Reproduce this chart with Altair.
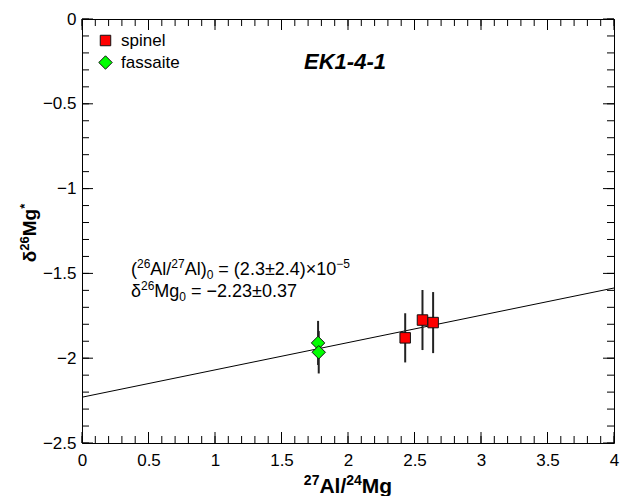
import altair as alt
import pandas as pd

# ---- data ----
spinel_x = [2.43, 2.56, 2.64]
spinel_y = [-1.88, -1.775, -1.79]
spinel_err = [0.145, 0.177, 0.18]

fass_x = [1.775, 1.78]
fass_y = [-1.91, -1.965]
fass_err = [0.13, 0.125]

fit_intercept = -2.23
fit_slope = 0.161
fit_x = [0, 4]

x_major = [0, 0.5, 1, 1.5, 2, 2.5, 3, 3.5, 4]
x_minor = [round(i * 0.1, 1) for i in range(41)]
y_major = [0, -0.5, -1, -1.5, -2, -2.5]
y_minor = [round(-i * 0.1, 1) for i in range(26)]

minerals = ["spinel", "fassaite"]
colors = ["#ff0000", "#00ff00"]
shapes = ["square", "diamond"]

chart_title = "EK1-4-1"
# rich texts: (text, kind) with kind n=normal, u=superscript, d=subscript
x_title = [("27", "u"), ("Al/", "n"), ("24", "u"), ("Mg", "n")]
y_title = [("δ", "n"), ("26", "u"), ("Mg", "n"), ("*", "u")]
ann_line1 = [("(", "n"), ("26", "u"), ("Al/", "n"), ("27", "u"), ("Al)", "n"), ("0", "d"),
             (" = (2.3±2.4)×10", "n"), ("−5", "u")]
ann_line2 = [("δ", "n"), ("26", "u"), ("Mg", "n"), ("0", "d"), (" = −2.23±0.37", "n")]

W, H = 532, 424
MAJ, MIN = 11, 7

# Arial / Liberation Sans advance widths (per 1000 em)
REG = {" ": 278, "(": 333, ")": 333, "*": 389, "-": 333, ".": 278, "/": 278, "=": 584,
       "A": 667, "M": 833, "l": 222, "g": 556, "±": 549, "×": 584, "−": 584, "δ": 556}
BOLD = {" ": 278, "(": 333, ")": 333, "*": 389, "-": 333, ".": 278, "/": 278, "=": 584,
        "A": 722, "M": 833, "l": 278, "g": 611, "±": 549, "×": 584, "−": 584, "δ": 611}


def text_width(s, size, bold=False):
    tbl = BOLD if bold else REG
    return sum(tbl.get(c, 556) for c in s) * size / 1000.0


def rich(segs, x0, y0, big, small, bold=False, rotate=False, up=None, down=None):
    up = big * 0.38 if up is None else up
    down = big * 0.22 if down is None else down
    rows, pos = [], 0.0
    for t, k in segs:
        fs = big if k == "n" else small
        off = -up if k == "u" else (down if k == "d" else 0.0)
        stripped = t.lstrip(" ")
        pos += text_width(t[: len(t) - len(stripped)], fs, bold)
        if rotate:
            rows.append({"t": stripped, "px": x0 + off, "py": y0 - pos, "fs": fs})
        else:
            rows.append({"t": stripped, "px": x0 + pos, "py": y0 + off, "fs": fs})
        pos += text_width(stripped, fs, bold)
    return rows, pos


pts = pd.DataFrame({
    "x": spinel_x + fass_x,
    "y": spinel_y + fass_y,
    "err": spinel_err + fass_err,
    "mineral": ["spinel"] * len(spinel_x) + ["fassaite"] * len(fass_x),
})
pts["lo"] = pts["y"] - pts["err"]
pts["hi"] = pts["y"] + pts["err"]

fit = pd.DataFrame({"x": fit_x, "y": [fit_intercept + fit_slope * v for v in fit_x]})

xs = alt.Scale(domain=[0, 4], nice=False, zero=False)
ys = alt.Scale(domain=[-2.5, 0], nice=False, zero=False)

xaxis = alt.Axis(values=x_major, ticks=False, grid=False, domain=False,
                 labelFontSize=17, labelPadding=9, labelFlush=False,
                 labelColor="black", format="~g", title=None)
yaxis = alt.Axis(values=y_major, ticks=False, grid=False, domain=False,
                 labelFontSize=17, labelPadding=6, labelFlush=False,
                 labelColor="black", format="~g", title=None)

line = alt.Chart(fit).mark_line(color="black", strokeWidth=1, clip=True).encode(
    x=alt.X("x:Q", scale=xs, axis=xaxis),
    y=alt.Y("y:Q", scale=ys, axis=yaxis),
)

err = alt.Chart(pts).mark_rule(color="#222222", strokeWidth=2).encode(
    x=alt.X("x:Q", scale=xs),
    y=alt.Y("lo:Q", scale=ys),
    y2="hi:Q",
)

points = alt.Chart(pts).mark_point(filled=True, stroke="#111111", strokeWidth=1, opacity=1).encode(
    x=alt.X("x:Q", scale=xs),
    y=alt.Y("y:Q", scale=ys),
    color=alt.Color("mineral:N", scale=alt.Scale(domain=minerals, range=colors),
                    legend=alt.Legend(title=None, orient="none", legendX=15, legendY=13,
                                      labelFontSize=17, labelColor="black",
                                      symbolStrokeColor="#111111", symbolStrokeWidth=1,
                                      rowPadding=4, labelOffset=7)),
    shape=alt.Shape("mineral:N", scale=alt.Scale(domain=minerals, range=shapes)),
    size=alt.Size("mineral:N", scale=alt.Scale(domain=minerals, range=[110, 180])),
)


# inward tick marks on all four sides
def xticks(vals, L):
    d = pd.DataFrame({"v": vals})
    b = alt.Chart(d).mark_rule(color="black", strokeWidth=1).encode(
        x=alt.X("v:Q", scale=xs), y=alt.value(H), y2=alt.value(H - L))
    t = alt.Chart(d).mark_rule(color="black", strokeWidth=1).encode(
        x=alt.X("v:Q", scale=xs), y=alt.value(0), y2=alt.value(L))
    return [b, t]


def yticks(vals, L):
    d = pd.DataFrame({"v": vals})
    l = alt.Chart(d).mark_rule(color="black", strokeWidth=1).encode(
        y=alt.Y("v:Q", scale=ys), x=alt.value(0), x2=alt.value(L))
    r = alt.Chart(d).mark_rule(color="black", strokeWidth=1).encode(
        y=alt.Y("v:Q", scale=ys), x=alt.value(W), x2=alt.value(W - L))
    return [l, r]


tick_layers = xticks(x_minor, MIN) + xticks(x_major, MAJ) + yticks(y_minor, MIN) + yticks(y_major, MAJ)


def rich_layer(rows, bold=False, angle=0):
    kw = dict(align="left", baseline="alphabetic", color="black")
    if bold:
        kw["fontWeight"] = "bold"
    if angle:
        kw["angle"] = angle
    return alt.Chart(pd.DataFrame(rows)).mark_text(**kw).encode(
        x=alt.X("px:Q", scale=None), y=alt.Y("py:Q", scale=None),
        text="t:N", size=alt.Size("fs:Q", scale=None))


# annotation text (regular)
r1, _ = rich(ann_line1, 49, 256, 18, 12)
r2, _ = rich(ann_line2, 49, 278, 18, 12)
annot = rich_layer(r1 + r2)

# x-axis title (bold), centred under plot
XB, XS = 21, 14
_, wx = rich(x_title, 0, 0, XB, XS, bold=True)
rx, _ = rich(x_title, W / 2 - wx / 2, 474, XB, XS, bold=True)
xt = rich_layer(rx, bold=True)

# y-axis title (bold, rotated)
YB, YS = 19, 13
_, wy = rich(y_title, 0, 0, YB, YS, bold=True)
ry, _ = rich(y_title, -46, H / 2 + 2 + wy / 2, YB, YS, bold=True, rotate=True)
yt = rich_layer(ry, bold=True, angle=270)

title = alt.Chart(pd.DataFrame({"t": [chart_title]})).mark_text(
    fontSize=22, fontWeight="bold", fontStyle="italic", color="black",
    align="center", baseline="middle").encode(
    x=alt.value(263), y=alt.value(43), text="t:N")

chart = alt.layer(line, err, points, *tick_layers, annot, xt, yt, title).properties(
    width=W, height=H,
    padding={"left": 82, "top": 19, "right": 13, "bottom": 53},
    autosize=alt.AutoSizeParams(type="none"),
).configure(font="Liberation Sans").configure_view(
    stroke="black", strokeWidth=1
).configure_axis(labelFont="Liberation Sans")

chart.save("out.html", embed_options={"renderer": "svg", "actions": False})
